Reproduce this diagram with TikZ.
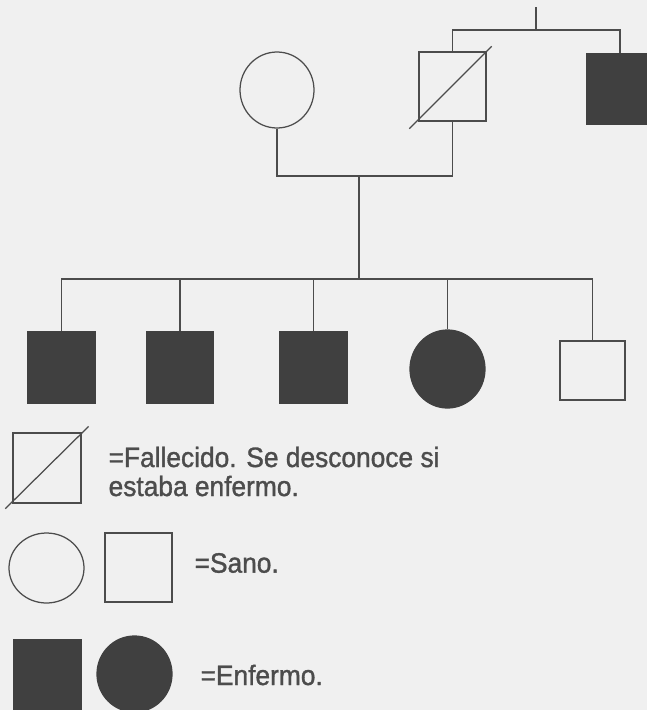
\documentclass[tikz,border=0pt]{standalone}
\usepackage{fontspec}
\setmainfont{Liberation Sans}
\newfontfamily\legfont[FakeStretch=0.94,FakeBold=1.2]{Liberation Sans}
\usetikzlibrary{positioning,calc,shapes.geometric}
\tikzset{>=stealth}
\definecolor{ink}{gray}{0.3}
\definecolor{dark}{gray}{0.25}
\definecolor{paper}{gray}{0.94}

\begin{document}
\begin{tikzpicture}[x=1pt,y=-1pt,line width=1.25pt,
  male/.style={draw=ink,rectangle,inner sep=0pt,minimum width=67pt,minimum height=70pt},
  female/.style={draw=ink,ellipse,inner sep=0pt,minimum width=74pt,minimum height=76pt},
  sick/.style={fill=dark,draw=dark},
  legtext/.style={anchor=west,text=ink,inner sep=0pt,align=left,
    font=\legfont\fontsize{28}{29}\selectfont}]
\fill[paper] (0,0) rectangle (647,710);
\clip (0,0) rectangle (647,710);
% parents and grandparents
\node[female] (gm) at (277,90) {};
\node[male,minimum height=69pt] (gf) at (452.5,86.5) {};
\draw[ink] ($(gf.south west)+(-9,7)$) -- ($(gf.north east)+(5,-5)$);
\node[male,sick] (uncle) at (620,89) {};
\coordinate (gp) at (536,30);
\draw[ink] (gp) -- ++(0,-23);
\draw[ink] (gf.north) |- (gp) -| (uncle.north);
\coordinate (m) at (359,176);
\coordinate (sib) at (359,279);
\draw[ink] (gm.south) |- (m) -| (gf.south);
\draw[ink] (m) -- (sib);
% children
\node[male,sick,minimum height=71pt] (c1) at (61.5,367.5) {};
\node[male,sick,minimum height=71pt] (c2) at (180,367.5) {};
\node[male,sick,minimum height=71pt] (c3) at (313.5,367.5) {};
\node[female,sick,minimum width=75pt,minimum height=78pt] (c4) at (447.5,369) {};
\node[male,minimum width=65pt,minimum height=59pt] (c5) at (592.5,370.5) {};
\foreach \c in {c1,c2,c3,c4,c5}
  \draw[ink] (sib) -| (\c.north);
% legend
\node[male,minimum width=68pt] (ldead) at (47,468) {};
\draw[ink] ($(ldead.south west)+(-7,5)$) -- ($(ldead.north east)+(7,-6)$);
\node[legtext] (tdead) at (108,471.5) {=Fallecido. Se desconoce si\\estaba enfermo.};
\node[female,minimum width=75pt,minimum height=70pt] (lfem) at (46.5,568) {};
\node[male,minimum height=69pt] (lmale) at (138.5,567.5) {};
\node[legtext] (tsano) at (194,563) {=Sano.};
\node[male,sick] (lsickm) at (47.5,675) {};
\node[female,sick,minimum width=75pt] (lsickf) at (134.5,674) {};
\node[legtext] (tsick) at (200,675) {=Enfermo.};
\end{tikzpicture}
\end{document}
